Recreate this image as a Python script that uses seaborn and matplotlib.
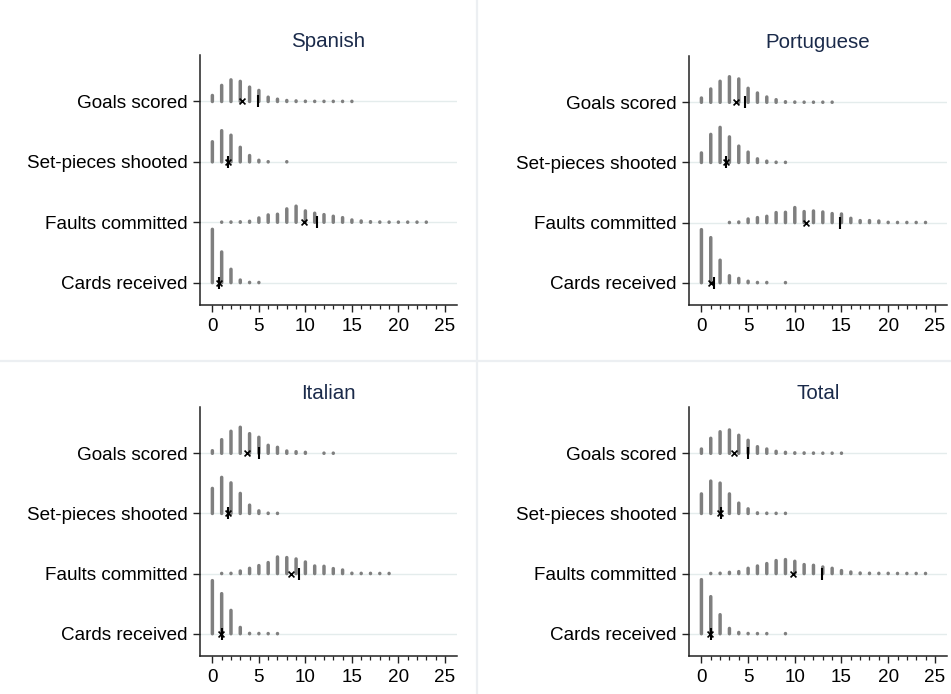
import numpy as np
import pandas as pd
import matplotlib
matplotlib.use("Agg")
import matplotlib.pyplot as plt
from matplotlib.lines import Line2D
import seaborn as sns

# share of matches (%) for each count value 0, 1, 2, ...
variables = ["Goals scored", "Set-pieces shooted", "Faults committed", "Cards received"]
leagues = ["Spanish", "Portuguese", "Italian", "Total"]

spanish_goals = [6, 16, 21.5, 20, 14.3, 11, 4.3, 2.3, 1, 0.6, 0.3, 0.2, 0.2, 0.2, 0.2, 0.2]
spanish_setpieces = [20, 31, 26.5, 14.5, 6.3, 1.6, 0.2, 0, 0.2]
spanish_faults = [0, 0.2, 0.3, 0.5, 1, 4.3, 7.3, 8, 13.3, 16, 11.3, 9, 7.6, 6, 4.6, 2.3,
                  1.3, 0.6, 0.3, 0.2, 0.2, 0.2, 0.2, 0.2]
spanish_cards = [53, 30.5, 13.3, 2.6, 0.3, 0.2]
spanish_mean = [3.15, 1.65, 9.8, 0.75]
spanish_var = [4.95, 1.65, 11.2, 0.75]

portuguese_goals = [4.3, 13.3, 21, 25.5, 23.3, 14, 9.3, 5.3, 2.6, 0.6, 0.3, 0.2, 0.2, 0.2, 0.2]
portuguese_setpieces = [9.5, 28, 35, 25.5, 16.3, 10.3, 3.6, 1.3, 0.3, 0.2]
portuguese_faults = [0, 0, 0, 0.2, 0.6, 3.6, 5, 6.3, 10, 10.3, 15, 11, 11.6, 10.6, 9, 8.6,
                     4.3, 2, 2, 1.6, 0.3, 0.2, 0.2, 0.2, 0.2]
portuguese_cards = [53, 45, 22.5, 7, 4.3, 1.5, 0.3, 0.3, 0, 0.2]
portuguese_mean = [3.65, 2.6, 11.2, 1.07]
portuguese_var = [4.7, 2.6, 14.8, 1.35]

italian_goals = [2.6, 13.6, 22, 26, 19.6, 16, 8, 6, 2.3, 1.6, 1, 0, 0.2, 0.2]
italian_setpieces = [25, 36, 30.5, 20, 8.3, 2.6, 0.3, 0.2]
italian_faults = [0, 0.2, 0.3, 2.6, 5.3, 8, 11, 16.6, 16, 14.6, 11.6, 7.6, 7.3, 5, 3.6, 0.4,
                  0.3, 0.3, 0.2, 0.2]
italian_cards = [53, 40, 23.3, 6.3, 0.4, 0.3, 0.2, 0.2]
italian_mean = [3.76, 1.72, 8.4, 0.93]
italian_var = [5.05, 1.72, 9.35, 1.0]

total_goals = [4.3, 15, 21.5, 23.3, 18, 13, 6.6, 4.3, 2, 1, 0.5, 0.4, 0.3, 0.2, 0.2, 0.2]
total_setpieces = [19.5, 32.3, 30.3, 19.5, 10.3, 4.6, 0.6, 0.3, 0.2, 0.2]
total_faults = [0, 0.2, 0.4, 1.3, 2, 5.3, 7.6, 10, 13, 14, 12.3, 9, 8.3, 6.6, 5.3, 3, 1.6,
                0.6, 0.4, 0.3, 0.3, 0.2, 0.2, 0.2, 0.2]
total_cards = [54, 37, 19, 5.3, 1.3, 0.3, 0.2, 0.2, 0, 0.2]
total_mean = [3.47, 1.97, 9.8, 0.9]
total_var = [4.95, 2.1, 12.9, 1.07]

dists = {
    "Spanish": [spanish_goals, spanish_setpieces, spanish_faults, spanish_cards],
    "Portuguese": [portuguese_goals, portuguese_setpieces, portuguese_faults, portuguese_cards],
    "Italian": [italian_goals, italian_setpieces, italian_faults, italian_cards],
    "Total": [total_goals, total_setpieces, total_faults, total_cards],
}
means = {"Spanish": spanish_mean, "Portuguese": portuguese_mean,
         "Italian": italian_mean, "Total": total_mean}
variances = {"Spanish": spanish_var, "Portuguese": portuguese_var,
             "Italian": italian_var, "Total": total_var}

sns.set_theme(style="white")
plt.rcParams["font.family"] = ["Liberation Sans", "DejaVu Sans"]
plt.rcParams["path.simplify"] = False

W, H = 951, 694
fig = plt.figure(figsize=(W / 100, H / 100), dpi=100)

# axes boxes in pixels: left, top, right, bottom
boxes = {
    "Spanish": (200, 55, 457, 305),
    "Portuguese": (689, 56, 947, 305),
    "Italian": (200, 407, 457, 656),
    "Total": (689, 407, 947, 656),
}

row_y = [4, 3, 2, 1]
scale = 1 / 60.0
bar_color = "#7f7f7f"

for lg in leagues:
    l, t, r, b = boxes[lg]
    ax = fig.add_axes([l / W, 1 - b / H, (r - l) / W, (b - t) / H])

    rows = []
    for var, y0, vals in zip(variables, row_y, dists[lg]):
        for k, v in enumerate(vals):
            if v > 0:
                rows.append({"variable": var, "value": k, "y": y0, "share": v})
    df = pd.DataFrame(rows)

    for y0 in row_y:
        ax.axhline(y0, color="#e4ecec", lw=1, zorder=0)

    # spikes; round caps make the tiny shares show as dots
    for _, rw in df.iterrows():
        ax.plot([rw["value"], rw["value"]], [rw["y"], rw["y"] + rw["share"] * scale],
                color=bar_color, lw=2.5, solid_capstyle="round", snap=False, zorder=2)

    stats = pd.DataFrame({"y": row_y, "mean": means[lg], "var": variances[lg]})
    sns.scatterplot(data=stats, x="var", y="y", marker="|", s=75, color="black",
                    linewidth=1.5, ax=ax, zorder=4)
    sns.scatterplot(data=stats, x="mean", y="y", marker="x", s=18, color="black",
                    linewidth=1.2, ax=ax, zorder=5)

    ax.set_xlim(-1.33, 26.3)
    ax.set_ylim(0.63, 4.77)
    ax.set_xticks(range(0, 26, 5))
    ax.set_xticks(range(0, 26), minor=True)
    ax.set_yticks(row_y)
    ax.set_yticklabels(variables)
    ax.set_xlabel("")
    ax.set_ylabel("")
    ax.tick_params(axis="both", which="major", direction="out", length=5, width=1,
                   color="#222222", labelsize=13.6, labelcolor="black", pad=4,
                   left=True, bottom=True)
    ax.tick_params(axis="x", which="minor", direction="out", length=3, width=0.9,
                   color="#222222", bottom=True)
    for side in ["top", "right"]:
        ax.spines[side].set_visible(False)
    for side in ["left", "bottom"]:
        ax.spines[side].set_color("#222222")
        ax.spines[side].set_linewidth(1.1)
    ax.set_title(lg, fontsize=14.8, color="#1a2a4a", pad=6)

# light separators between the four graphs
fig.add_artist(Line2D([477 / W, 477 / W], [0, 1], transform=fig.transFigure,
                      color="#eceff2", lw=1.6))
fig.add_artist(Line2D([0, 1], [1 - 361 / H, 1 - 361 / H], transform=fig.transFigure,
                      color="#eceff2", lw=1.6))

fig.savefig("out.png", dpi=100)
